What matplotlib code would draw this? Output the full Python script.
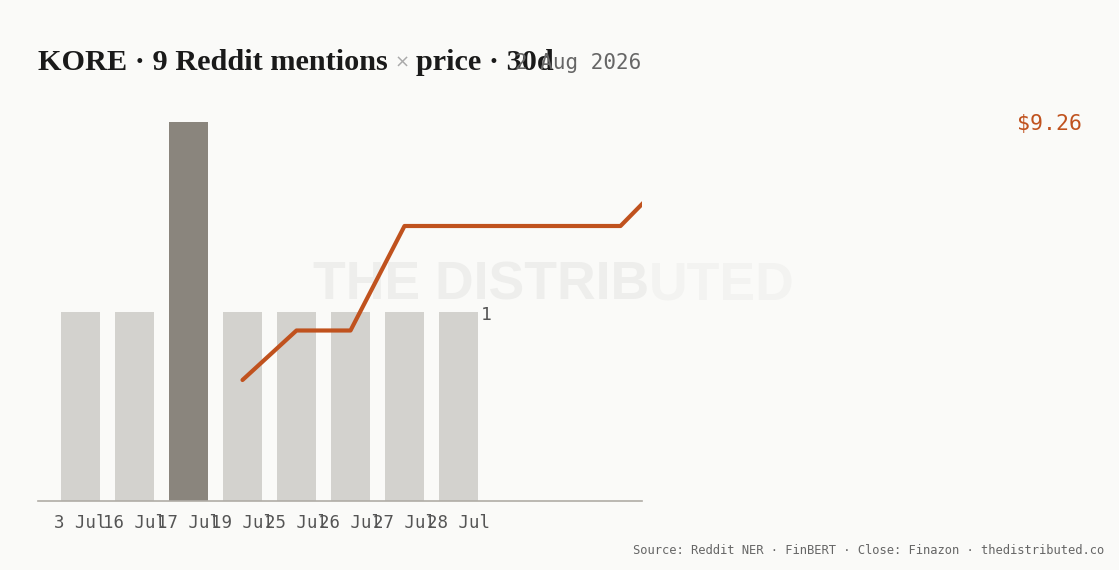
import matplotlib
matplotlib.use("Agg")
import matplotlib.pyplot as plt

# 每日 Reddit 提及次數
days = ["3 Jul", "16 Jul", "17 Jul", "19 Jul", "25 Jul", "26 Jul", "27 Jul", "28 Jul"]
mentions = [1, 1, 2, 1, 1, 1, 1, 1]
# 收盤價（從 19 Jul 起，最後一點超出圖框）
price_idx = [3, 4, 5, 6, 7, 8, 9, 10, 11]
price = [8.88, 8.97, 8.97, 9.16, 9.16, 9.16, 9.16, 9.16, 9.26]

BG = "#fafaf8"
LIGHT = "#d3d2ce"
DARK = "#8a857d"
ORANGE = "#c0521e"
MONO = "DejaVu Sans Mono"

W, H = 1119, 570
fig = plt.figure(figsize=(W / 100, H / 100), dpi=100, facecolor=BG)

def fx(px): return px / W
def fy(py): return 1 - py / H

# 浮水印（壓在圖形下面）
wm1 = fig.text(fx(313), fy(285), "THE DISTRIB", fontsize=38.5, fontweight="bold",
               family="Liberation Sans", color="#eeeeec", va="center", ha="left", zorder=-1)
fig.canvas.draw()
ext = wm1.get_window_extent()
fig.text(ext.x1 / W, fy(285), "UTED", fontsize=38.5, fontweight="bold",
         family="Liberation Sans", color="#f3f3f1", va="center", ha="left", zorder=-1)

ax = fig.add_axes([fx(38), fy(501), fx(642) - fx(38), (501 - 102) / H])
ax.set_zorder(1)
ax.set_facecolor("none")
top = max(mentions) * 399 / 379
bar_colors = [DARK if m == max(mentions) else LIGHT for m in mentions]
ax.bar(range(len(days)), mentions, width=39 / 54, color=bar_colors, zorder=2)
ax.set_xlim(-42.5 / 54, (642 - 80.5) / 54)
ax.set_ylim(0, top)
ax.set_xticks(range(len(days)))
ax.set_xticklabels(days, family=MONO, fontsize=12.5, color="#555555")
ax.tick_params(axis="x", length=0, pad=9)
ax.set_yticks([])
for s in ["top", "right", "left"]:
    ax.spines[s].set_visible(False)
ax.spines["bottom"].set_color("#b0aca6")
ax.spines["bottom"].set_linewidth(1.2)
ax.text(len(days) - 1 + 0.42, 0.98, "1", family=MONO, fontsize=13, color="#555555",
        va="center", ha="left")

ax2 = ax.twinx()
ax2.set_ylim(8.66, 8.66 + 399 / 550)
ax2.plot(price_idx, price, color=ORANGE, lw=3, solid_capstyle="round", zorder=3)
ax2.set_yticks([])
for s in ax2.spines.values():
    s.set_visible(False)

fig.text(fx(1082), fy(124), f"${price[-1]:.2f}", family=MONO, fontsize=15.5,
         color=ORANGE, ha="right", va="center")

# 標題
TS = 21.8
t1 = fig.text(fx(38), fy(70), "KORE · 9 Reddit mentions", family="Liberation Serif",
              fontweight="bold", fontsize=TS, color="#1a1a1a", va="baseline")
fig.canvas.draw()
e1 = t1.get_window_extent()
t2 = fig.text(e1.x1 / W + 0.006, fy(68), "×", family="DejaVu Sans", fontsize=13,
              color="#aaaaaa", va="baseline")
fig.canvas.draw()
e2 = t2.get_window_extent()
fig.text(e2.x1 / W + 0.006, fy(70), "price · 30d", family="Liberation Serif",
         fontweight="bold", fontsize=TS, color="#1a1a1a", va="baseline")
fig.text(fx(641), fy(63), "2 Aug 2026", family=MONO, fontsize=15, color="#666666",
         ha="right", va="center")

fig.text(fx(1104), fy(551), "Source: Reddit NER · FinBERT · Close: Finazon · thedistributed.co",
         family=MONO, fontsize=8.7, color="#666666", ha="right", va="center")

fig.savefig("out.png", dpi=100, facecolor=BG)
